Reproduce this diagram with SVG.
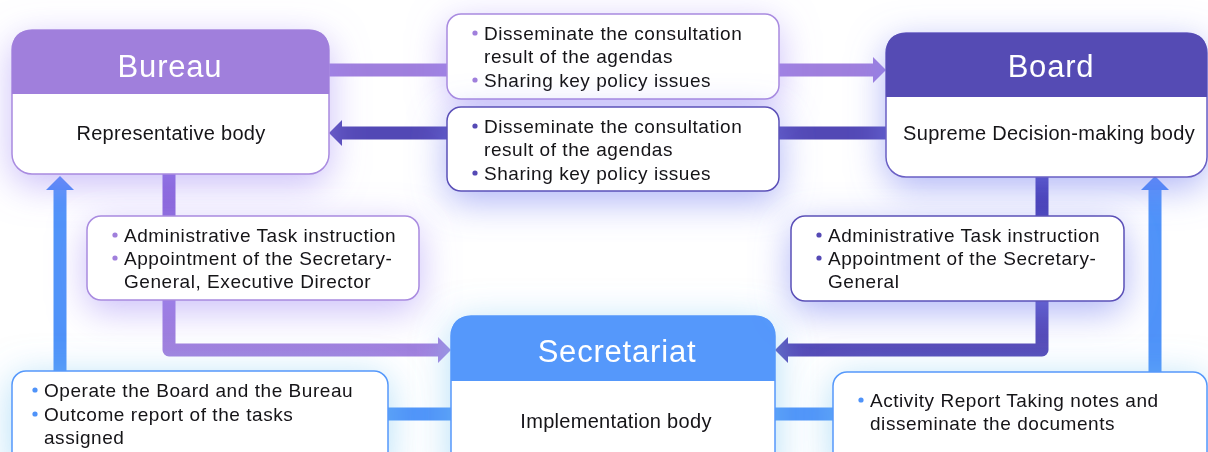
<svg xmlns="http://www.w3.org/2000/svg" width="1208" height="452" viewBox="0 0 1208 452">
<defs>
<style>
.t{font-family:"Liberation Sans",Arial,sans-serif;fill:#141218;font-size:19px;letter-spacing:0.55px}
.sub{font-family:"Liberation Sans",Arial,sans-serif;fill:#141218;font-size:20px;letter-spacing:0.3px;text-anchor:middle}
.ttl{font-family:"Liberation Sans",Arial,sans-serif;fill:#ffffff;font-size:31px;letter-spacing:0.8px;text-anchor:middle}
.box{fill:#ffffff;stroke-width:1.5}
.lp{stroke:#a98be0}
.dp{stroke:#5b50b8}
.bl{stroke:#5598fb}
.conn{fill:none;stroke-width:13;stroke-linejoin:round}
</style>
<filter id="gP" x="-40%" y="-40%" width="180%" height="200%"><feDropShadow dx="0" dy="10" stdDeviation="18" flood-color="#a088f5" flood-opacity="0.55"/></filter>
<filter id="gD" x="-40%" y="-40%" width="180%" height="200%"><feDropShadow dx="0" dy="10" stdDeviation="18" flood-color="#7a84f2" flood-opacity="0.6"/></filter>
<filter id="gB" x="-40%" y="-40%" width="180%" height="200%"><feDropShadow dx="0" dy="6" stdDeviation="18" flood-color="#74c4f2" flood-opacity="0.55"/></filter>
<linearGradient id="lgP" gradientUnits="userSpaceOnUse" x1="0" y1="174" x2="0" y2="360"><stop offset="0" stop-color="#8560d8"/><stop offset="1" stop-color="#a283de"/></linearGradient>
<linearGradient id="lgD" gradientUnits="userSpaceOnUse" x1="0" y1="177" x2="0" y2="360"><stop offset="0" stop-color="#3f35ae"/><stop offset="1" stop-color="#574cb8"/></linearGradient>
</defs>

<g id="connectors">
<path class="conn" d="M329,70 H874" stroke="#9f7fdd"/>
<polygon points="873,57 886,70 873,83" fill="#9f7fdd"/>
<path class="conn" d="M341,133 H886" stroke="#5248b5"/>
<polygon points="342,120 329,133 342,146" fill="#5248b5"/>
<path class="conn" d="M169,174 V350 H439" stroke="url(#lgP)"/>
<polygon points="438,337 451,350 438,363" fill="#a283de"/>
<path class="conn" d="M1042,177 V350 H787" stroke="url(#lgD)"/>
<polygon points="788,337 775,350 788,363" fill="#574cb8"/>
<path class="conn" d="M451,414 H60 V189" stroke="#4f93f9"/>
<polygon points="46,190 60,176 74,190" fill="#4688f8"/>
<path class="conn" d="M775,414 H1155 V189" stroke="#4f93f9"/>
<polygon points="1141,190 1155,176 1169,190" fill="#4688f8"/>
</g>

<g id="bureau" filter="url(#gP)">
<rect class="box lp" x="12" y="30" width="317" height="144" rx="20"/>
<path d="M12,94 V50 Q12,30 32,30 H309 Q329,30 329,50 V94 Z" fill="#a07fdc"/>
<text class="ttl" x="170" y="77">Bureau</text>
<text class="sub" x="171" y="140">Representative body</text>
</g>

<g id="board" filter="url(#gD)">
<rect class="box" stroke="#6a5fc4" x="886" y="33" width="321" height="144" rx="20"/>
<path d="M886,97 V53 Q886,33 906,33 H1187 Q1207,33 1207,53 V97 Z" fill="#544cb4"/>
<text class="ttl" x="1051" y="77">Board</text>
<text class="sub" x="1049" y="140">Supreme Decision-making body</text>
</g>

<g id="secretariat" filter="url(#gB)">
<rect class="box bl" x="451" y="316" width="324" height="170" rx="20"/>
<path d="M451,381 V336 Q451,316 471,316 H755 Q775,316 775,336 V381 Z" fill="#5598fb"/>
<text class="ttl" x="617" y="362">Secretariat</text>
<text class="sub" x="616" y="428">Implementation body</text>
</g>

<g id="label-bureau-to-board" filter="url(#gP)">
<rect class="box lp" x="447" y="14" width="332" height="85" rx="14"/>
<circle cx="475" cy="33" r="2.6" fill="#a07fdc"/>
<circle cx="475" cy="80" r="2.6" fill="#a07fdc"/>
<text class="t" x="484" y="40">Disseminate the consultation</text>
<text class="t" x="484" y="63">result of the agendas</text>
<text class="t" x="484" y="87">Sharing key policy issues</text>
</g>

<g id="label-board-to-bureau" filter="url(#gD)">
<rect class="box dp" x="447" y="107" width="332" height="84" rx="14"/>
<circle cx="475" cy="126" r="2.6" fill="#5549b5"/>
<circle cx="475" cy="173" r="2.6" fill="#5549b5"/>
<text class="t" x="484" y="133">Disseminate the consultation</text>
<text class="t" x="484" y="156">result of the agendas</text>
<text class="t" x="484" y="180">Sharing key policy issues</text>
</g>

<g id="label-bureau-to-secretariat" filter="url(#gP)">
<rect class="box lp" x="87" y="216" width="332" height="84" rx="14"/>
<circle cx="115" cy="235" r="2.6" fill="#a07fdc"/>
<circle cx="115" cy="258" r="2.6" fill="#a07fdc"/>
<text class="t" x="124" y="242">Administrative Task instruction</text>
<text class="t" x="124" y="265">Appointment of the Secretary-</text>
<text class="t" x="124" y="288">General, Executive Director</text>
</g>

<g id="label-board-to-secretariat" filter="url(#gD)">
<rect class="box dp" x="791" y="216" width="333" height="85" rx="14"/>
<circle cx="819" cy="235" r="2.6" fill="#5549b5"/>
<circle cx="819" cy="258" r="2.6" fill="#5549b5"/>
<text class="t" x="828" y="242">Administrative Task instruction</text>
<text class="t" x="828" y="265">Appointment of the Secretary-</text>
<text class="t" x="828" y="288">General</text>
</g>

<g id="label-secretariat-to-bureau" filter="url(#gB)">
<rect class="box bl" x="12" y="371" width="376" height="100" rx="14"/>
<circle cx="35" cy="390" r="2.6" fill="#4f93f9"/>
<circle cx="35" cy="414" r="2.6" fill="#4f93f9"/>
<text class="t" x="44" y="397">Operate the Board and the Bureau</text>
<text class="t" x="44" y="421">Outcome report of the tasks</text>
<text class="t" x="44" y="444">assigned</text>
</g>

<g id="label-secretariat-to-board" filter="url(#gB)">
<rect class="box bl" x="833" y="372" width="374" height="100" rx="14"/>
<circle cx="861" cy="400" r="2.6" fill="#4f93f9"/>
<text class="t" x="870" y="407">Activity Report Taking notes and</text>
<text class="t" x="870" y="430">disseminate the documents</text>
</g>
</svg>
